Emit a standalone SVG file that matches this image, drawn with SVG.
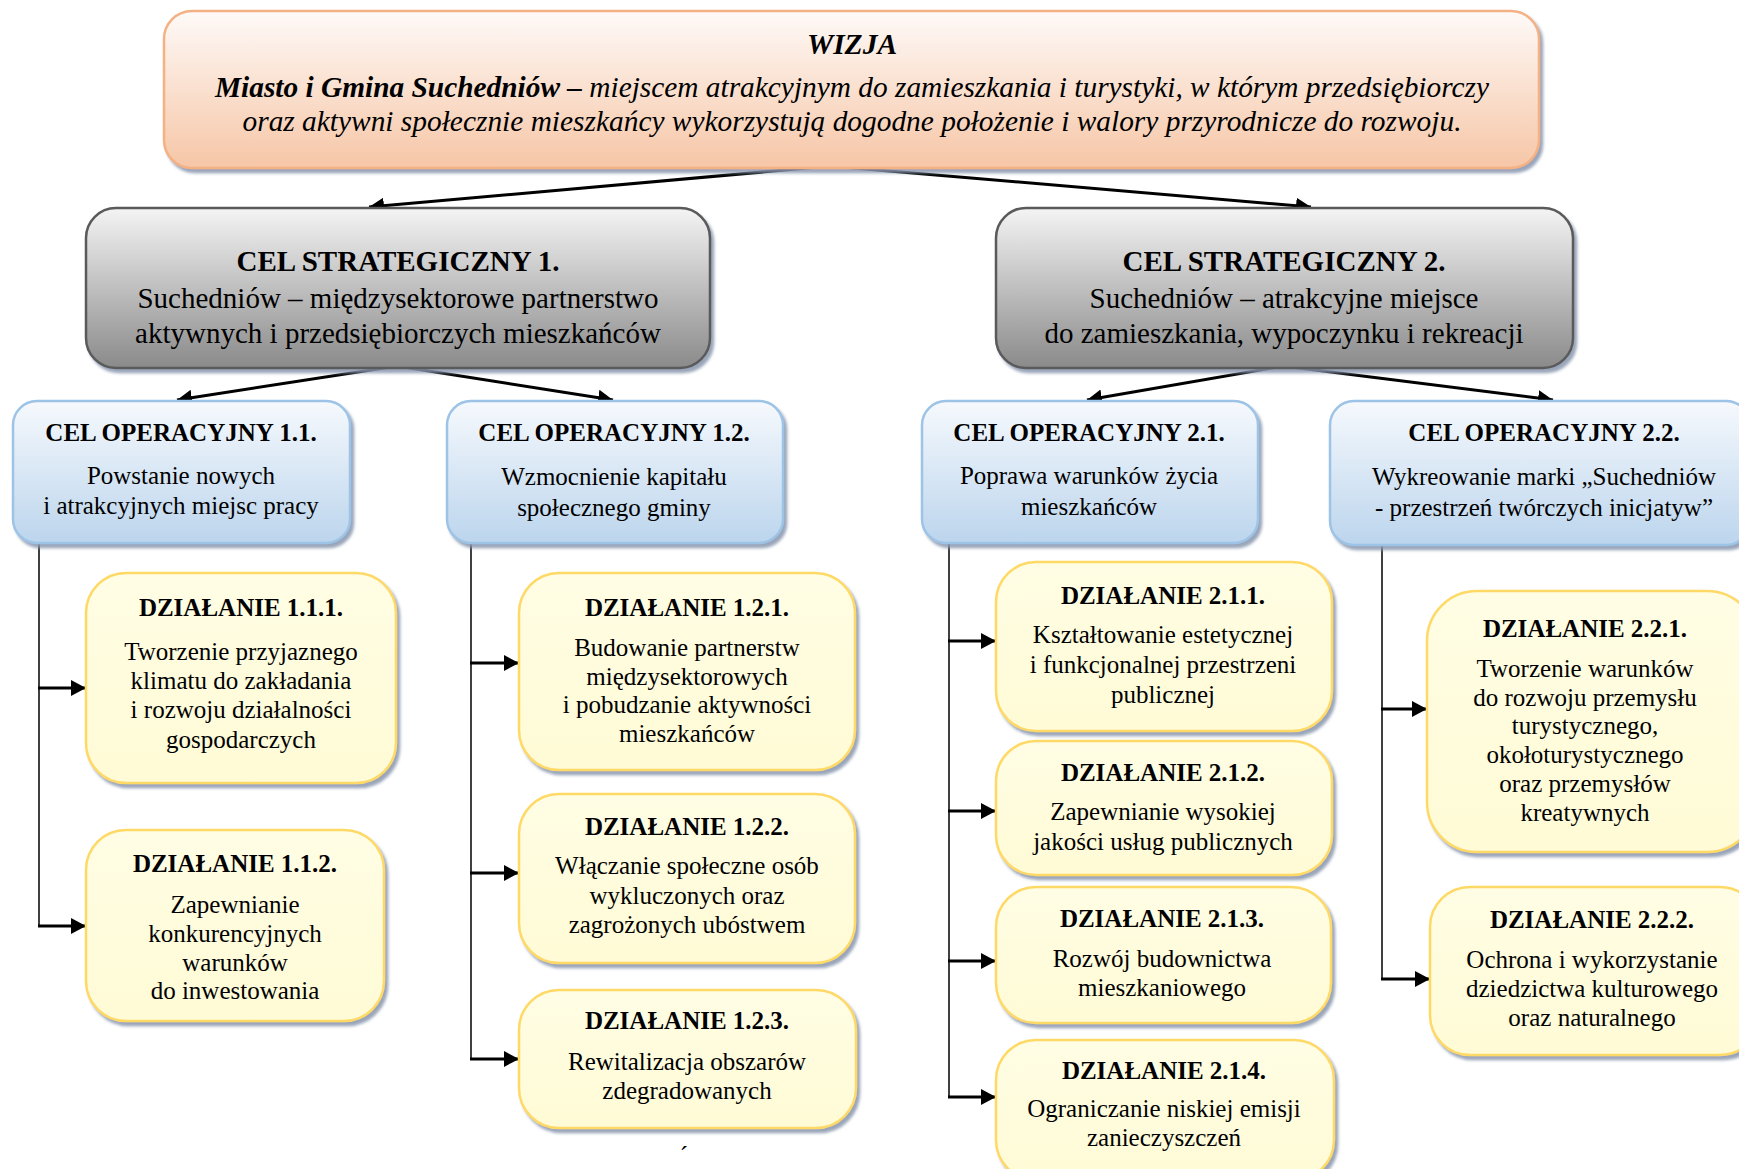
<svg xmlns="http://www.w3.org/2000/svg" width="1739" height="1169" viewBox="0 0 1739 1169">
<defs>
<linearGradient id="gV" x1="0" y1="0" x2="0" y2="1"><stop offset="0" stop-color="#fefaf8"/><stop offset="1" stop-color="#f6c6a6"/></linearGradient>
<linearGradient id="gS" x1="0" y1="0" x2="0" y2="1"><stop offset="0" stop-color="#f4f4f4"/><stop offset="1" stop-color="#8a8a8a"/></linearGradient>
<linearGradient id="gO" x1="0" y1="0" x2="0" y2="1"><stop offset="0" stop-color="#f6f9fd"/><stop offset="1" stop-color="#bcd5ed"/></linearGradient>
<linearGradient id="gD" x1="0" y1="0" x2="0" y2="1"><stop offset="0" stop-color="#fffde4"/><stop offset="1" stop-color="#fffbd6"/></linearGradient>
<filter id="sh" x="-5%" y="-5%" width="115%" height="120%"><feDropShadow dx="3" dy="4" stdDeviation="1.5" flood-color="#8796ad" flood-opacity="0.85"/></filter>
<marker id="ah" markerUnits="userSpaceOnUse" markerWidth="16" markerHeight="16" refX="15" refY="8" orient="auto"><path d="M0,0 L15,8 L0,16 z" fill="#000"/></marker>
</defs>
<style>
text{font-family:"Liberation Serif","Times New Roman",serif;fill:#000;text-anchor:middle}
.v{fill:url(#gV);stroke:#f4b183;stroke-width:2.5;filter:url(#sh)}
.s{fill:url(#gS);stroke:#5a5a5a;stroke-width:2.5;filter:url(#sh)}
.o{fill:url(#gO);stroke:#9dc3e6;stroke-width:2.5;filter:url(#sh)}
.d{fill:url(#gD);stroke:#ffd966;stroke-width:2.5;filter:url(#sh)}
.vt{font-size:29.5px;font-style:italic}
.st{font-size:29px;font-weight:bold}
.sb{font-size:29px}
.t{font-size:25px;font-weight:bold}
.b{font-size:25px}
.vl{stroke:#000;stroke-width:1.5;fill:none}
.a{stroke:#000;stroke-width:3;fill:none;marker-end:url(#ah)}
</style>

<g id="connectors">
<line class="a" x1="830" y1="166" x2="369" y2="207"/>
<line class="a" x1="830" y1="166" x2="1311" y2="207"/>
<line class="a" x1="397" y1="366" x2="177" y2="400"/>
<line class="a" x1="397" y1="366" x2="613" y2="400"/>
<line class="a" x1="1283" y1="366" x2="1087" y2="400"/>
<line class="a" x1="1283" y1="366" x2="1553" y2="400"/>
<line class="vl" x1="39" y1="543" x2="39" y2="926"/>
<line class="a" x1="38" y1="688" x2="86" y2="688"/>
<line class="a" x1="38" y1="926" x2="86" y2="926"/>
<line class="vl" x1="471" y1="543" x2="471" y2="1059"/>
<line class="a" x1="470" y1="663" x2="519" y2="663"/>
<line class="a" x1="470" y1="873" x2="519" y2="873"/>
<line class="a" x1="470" y1="1059" x2="519" y2="1059"/>
<line class="vl" x1="949" y1="543" x2="949" y2="1097"/>
<line class="a" x1="948" y1="641" x2="996" y2="641"/>
<line class="a" x1="948" y1="811" x2="996" y2="811"/>
<line class="a" x1="948" y1="961" x2="996" y2="961"/>
<line class="a" x1="948" y1="1097" x2="996" y2="1097"/>
<line class="vl" x1="1382" y1="543" x2="1382" y2="979"/>
<line class="a" x1="1381" y1="709" x2="1427" y2="709"/>
<line class="a" x1="1381" y1="979" x2="1430" y2="979"/>
</g>

<g id="wizja">
<rect class="v" x="164" y="11" width="1375" height="157" rx="28"/>
<text class="vt" x="852" y="54" font-weight="bold">WIZJA</text>
<text class="vt" x="852" y="97" textLength="1274" lengthAdjust="spacingAndGlyphs"><tspan font-weight="bold">Miasto i Gmina Suchedniów –</tspan> miejscem atrakcyjnym do zamieszkania i turystyki, w którym przedsiębiorczy</text>
<text class="vt" x="852" y="131" textLength="1219" lengthAdjust="spacingAndGlyphs">oraz aktywni społecznie mieszkańcy wykorzystują dogodne położenie i walory przyrodnicze do rozwoju.</text>
</g>

<g id="cs1">
<rect class="s" x="86" y="208" width="624" height="160" rx="30"/>
<text class="st" x="398" y="271">CEL STRATEGICZNY 1.</text>
<text class="sb" x="398" y="308">Suchedniów – międzysektorowe partnerstwo</text>
<text class="sb" x="398" y="343">aktywnych i przedsiębiorczych mieszkańców</text>
</g>
<g id="cs2">
<rect class="s" x="996" y="208" width="577" height="160" rx="30"/>
<text class="st" x="1284" y="271">CEL STRATEGICZNY 2.</text>
<text class="sb" x="1284" y="308">Suchedniów – atrakcyjne miejsce</text>
<text class="sb" x="1284" y="343">do zamieszkania, wypoczynku i rekreacji</text>
</g>

<g id="co11">
<rect class="o" x="13" y="401" width="337" height="142" rx="24"/>
<text class="t" x="181" y="441">CEL OPERACYJNY 1.1.</text>
<text class="b" x="181" y="484">Powstanie nowych</text>
<text class="b" x="181" y="514">i atrakcyjnych miejsc pracy</text>
</g>
<g id="co12">
<rect class="o" x="447" y="401" width="336" height="142" rx="24"/>
<text class="t" x="614" y="441">CEL OPERACYJNY 1.2.</text>
<text class="b" x="614" y="485">Wzmocnienie kapitału</text>
<text class="b" x="614" y="516">społecznego gminy</text>
</g>
<g id="co21">
<rect class="o" x="922" y="401" width="336" height="142" rx="24"/>
<text class="t" x="1089" y="441">CEL OPERACYJNY 2.1.</text>
<text class="b" x="1089" y="484">Poprawa warunków życia</text>
<text class="b" x="1089" y="515">mieszkańców</text>
</g>
<g id="co22">
<rect class="o" x="1330" y="401" width="420" height="144" rx="24"/>
<text class="t" x="1544" y="441">CEL OPERACYJNY 2.2.</text>
<text class="b" x="1544" y="485">Wykreowanie marki „Suchedniów</text>
<text class="b" x="1544" y="516">- przestrzeń twórczych inicjatyw”</text>
</g>

<g id="dz111">
<rect class="d" x="86" y="573" width="310" height="210" rx="40"/>
<text class="t" x="241" y="616">DZIAŁANIE 1.1.1.</text>
<text class="b" x="241" y="660">Tworzenie przyjaznego</text>
<text class="b" x="241" y="689">klimatu do zakładania</text>
<text class="b" x="241" y="718">i rozwoju działalności</text>
<text class="b" x="241" y="748">gospodarczych</text>
</g>
<g id="dz112">
<rect class="d" x="86" y="830" width="298" height="191" rx="40"/>
<text class="t" x="235" y="872">DZIAŁANIE 1.1.2.</text>
<text class="b" x="235" y="913">Zapewnianie</text>
<text class="b" x="235" y="942">konkurencyjnych</text>
<text class="b" x="235" y="971">warunków</text>
<text class="b" x="235" y="999">do inwestowania</text>
</g>
<g id="dz121">
<rect class="d" x="519" y="573" width="336" height="197" rx="40"/>
<text class="t" x="687" y="616">DZIAŁANIE 1.2.1.</text>
<text class="b" x="687" y="656">Budowanie partnerstw</text>
<text class="b" x="687" y="685">międzysektorowych</text>
<text class="b" x="687" y="713">i pobudzanie aktywności</text>
<text class="b" x="687" y="742">mieszkańców</text>
</g>
<g id="dz122">
<rect class="d" x="519" y="794" width="336" height="169" rx="40"/>
<text class="t" x="687" y="835">DZIAŁANIE 1.2.2.</text>
<text class="b" x="687" y="874">Włączanie społeczne osób</text>
<text class="b" x="687" y="904">wykluczonych oraz</text>
<text class="b" x="687" y="933">zagrożonych ubóstwem</text>
</g>
<g id="dz123">
<rect class="d" x="519" y="990" width="337" height="138" rx="40"/>
<text class="t" x="687" y="1029">DZIAŁANIE 1.2.3.</text>
<text class="b" x="687" y="1070">Rewitalizacja obszarów</text>
<text class="b" x="687" y="1099">zdegradowanych</text>
</g>

<g id="dz211">
<rect class="d" x="996" y="562" width="336" height="169" rx="40"/>
<text class="t" x="1163" y="604">DZIAŁANIE 2.1.1.</text>
<text class="b" x="1163" y="643">Kształtowanie estetycznej</text>
<text class="b" x="1163" y="673">i funkcjonalnej przestrzeni</text>
<text class="b" x="1163" y="703">publicznej</text>
</g>
<g id="dz212">
<rect class="d" x="996" y="741" width="336" height="134" rx="40"/>
<text class="t" x="1163" y="781">DZIAŁANIE 2.1.2.</text>
<text class="b" x="1163" y="820">Zapewnianie wysokiej</text>
<text class="b" x="1163" y="850">jakości usług publicznych</text>
</g>
<g id="dz213">
<rect class="d" x="996" y="887" width="335" height="136" rx="40"/>
<text class="t" x="1162" y="927">DZIAŁANIE 2.1.3.</text>
<text class="b" x="1162" y="967">Rozwój budownictwa</text>
<text class="b" x="1162" y="996">mieszkaniowego</text>
</g>
<g id="dz214">
<rect class="d" x="996" y="1040" width="338" height="140" rx="40"/>
<text class="t" x="1164" y="1079">DZIAŁANIE 2.1.4.</text>
<text class="b" x="1164" y="1117">Ograniczanie niskiej emisji</text>
<text class="b" x="1164" y="1146">zanieczyszczeń</text>
</g>
<g id="dz221">
<rect class="d" x="1427" y="591" width="330" height="261" rx="50"/>
<text class="t" x="1585" y="637">DZIAŁANIE 2.2.1.</text>
<text class="b" x="1585" y="677">Tworzenie warunków</text>
<text class="b" x="1585" y="706">do rozwoju przemysłu</text>
<text class="b" x="1585" y="734">turystycznego,</text>
<text class="b" x="1585" y="763">okołoturystycznego</text>
<text class="b" x="1585" y="792">oraz przemysłów</text>
<text class="b" x="1585" y="821">kreatywnych</text>
</g>
<g id="dz222">
<rect class="d" x="1430" y="887" width="330" height="168" rx="40"/>
<text class="t" x="1592" y="928">DZIAŁANIE 2.2.2.</text>
<text class="b" x="1592" y="968">Ochrona i wykorzystanie</text>
<text class="b" x="1592" y="997">dziedzictwa kulturowego</text>
<text class="b" x="1592" y="1026">oraz naturalnego</text>
</g>
<text class="b" x="684" y="1164" font-size="20px">´</text>
</svg>
